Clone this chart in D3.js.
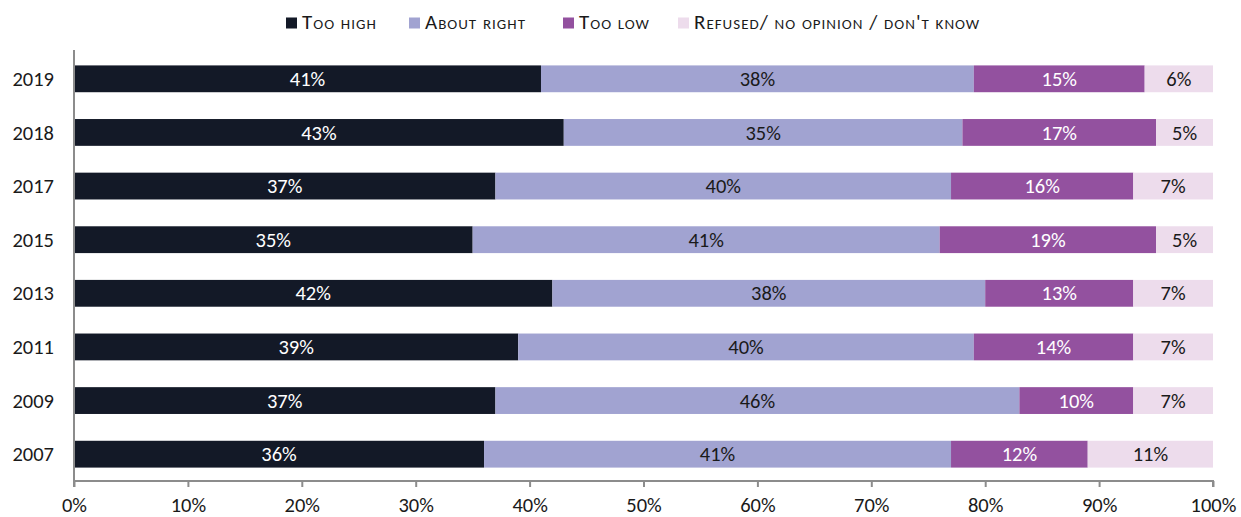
<!DOCTYPE html>
<html>
<head>
<meta charset="utf-8">
<script src="https://cdn.jsdelivr.net/npm/d3@7"></script>
<style>
  html, body { margin: 0; padding: 0; background: #fff; }
  svg { display: block; font-family: Carlito, Calibri, Lato, "Open Sans", sans-serif; }
</style>
</head>
<body>
<svg id="chart" width="1241" height="517"></svg>
<script>
// Survey years, top to bottom
const years = ["2019", "2018", "2017", "2015", "2013", "2011", "2009", "2007"];

// Share of responses (%) per year, same order as years
const tooHigh    = [41, 43, 37, 35, 42, 39, 37, 36];
const aboutRight = [38, 35, 40, 41, 38, 40, 46, 41];
const tooLow     = [15, 17, 16, 19, 13, 14, 10, 12];
const refused    = [6, 5, 7, 5, 7, 7, 7, 11];

const seriesNames = ["Too high", "About right", "Too low", "Refused/ no opinion / don't know"];
const xTicks = [0, 10, 20, 30, 40, 50, 60, 70, 80, 90, 100];

const colors = ["#131927", "#a1a3d1", "#93519f", "#eddcec"];
const labelColors = ["#ffffff", "#1a1a1a", "#ffffff", "#1a1a1a"];

const rows = years.map((y, i) => ({
  year: y,
  v: [tooHigh[i], aboutRight[i], tooLow[i], refused[i]]
}));

const svg = d3.select("#chart");
const margin = { left: 74, right: 28, top: 52, bottom: 36 };
const W = 1241, H = 517;
const FS = 20.5;

const x = d3.scaleLinear().domain([0, 100]).range([margin.left, W - margin.right]);
const y = d3.scaleBand().domain(years).range([margin.top, H - margin.bottom])
  .paddingInner(0.5).paddingOuter(0.25);

// Stacked segments
const stack = d3.stack().keys([0, 1, 2, 3]).value((d, k) => d.v[k]);
const layers = stack(rows);

const g = svg.append("g");
layers.forEach((layer, k) => {
  const lg = g.append("g");
  lg.selectAll("rect").data(layer).join("rect")
    .attr("x", d => x(d[0]))
    .attr("y", d => y(d.data.year))
    .attr("width", d => x(d[1]) - x(d[0]))
    .attr("height", y.bandwidth())
    .attr("fill", colors[k]);
  lg.selectAll("text").data(layer).join("text")
    .attr("x", d => (x(d[0]) + x(d[1])) / 2)
    .attr("y", d => y(d.data.year) + y.bandwidth() / 2)
    .attr("dy", "0.35em")
    .attr("text-anchor", "middle")
    .attr("font-size", FS)
    .attr("fill", labelColors[k])
    .text(d => d.data.v[k] + "%");
});

// Bottom axis
const xAxis = d3.axisBottom(x).tickValues(xTicks).tickFormat(d => d + "%").tickSize(6).tickPadding(10);
const ax = svg.append("g").attr("transform", `translate(0,${H - margin.bottom})`).call(xAxis);
ax.select(".domain").attr("stroke", "#8c8c8c").attr("stroke-width", 2)
  .attr("d", `M${x(0)},6V0H${x(100)}V6`);
ax.selectAll(".tick line").attr("stroke", "#8c8c8c").attr("stroke-width", 2);
ax.selectAll(".tick text").attr("font-size", FS).attr("fill", "#1a1a1a")
  .attr("font-family", "Carlito, Calibri, Lato, 'Open Sans', sans-serif");

// Left axis line and year labels
svg.append("line")
  .attr("x1", x(0)).attr("x2", x(0))
  .attr("y1", margin.top - 2).attr("y2", H - margin.bottom)
  .attr("stroke", "#8c8c8c").attr("stroke-width", 2);
svg.append("g").selectAll("text").data(years).join("text")
  .attr("x", 54)
  .attr("y", d => y(d) + y.bandwidth() / 2)
  .attr("dy", "0.35em")
  .attr("text-anchor", "end")
  .attr("font-size", FS)
  .attr("fill", "#1a1a1a")
  .text(d => d);

// Legend
const legendX = [286, 409, 563, 678];
const leg = svg.append("g");
seriesNames.forEach((name, k) => {
  leg.append("rect")
    .attr("x", legendX[k]).attr("y", 17.5)
    .attr("width", 11).attr("height", 11)
    .attr("fill", colors[k]);
  leg.append("text")
    .attr("x", legendX[k] + 16).attr("y", 28.5)
    .attr("font-size", 21)
    .attr("letter-spacing", 1)
    .style("font-variant", "small-caps")
    .attr("fill", "#1a1a1a")
    .text(name);
});
</script>
</body>
</html>
